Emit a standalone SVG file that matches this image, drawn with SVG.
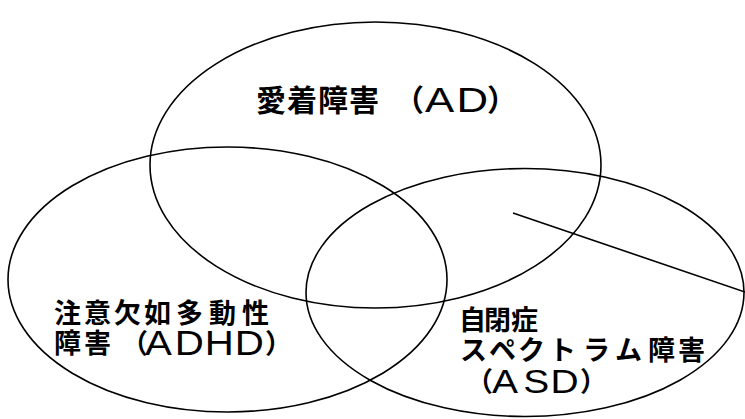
<svg xmlns="http://www.w3.org/2000/svg" width="745" height="419" viewBox="0 0 745 419">
<style>
.c{fill:none;stroke:#000;stroke-width:1.6}
.t{font-family:"Noto Sans CJK JP","Noto Sans CJK SC",sans-serif;font-weight:700;fill:#000}
.l{font-family:"Liberation Sans",Arial,sans-serif;fill:#000}
</style>
<rect width="745" height="419" fill="#fff"/>
<g id="ad">
<ellipse class="c" cx="375.5" cy="165" rx="225.5" ry="143"/>
<text class="t" font-size="30" y="111"><tspan x="256 287 318 349">愛着障害</tspan><tspan x="394">（</tspan><tspan x="487">）</tspan></text>
<text class="l" font-size="35" transform="translate(0 112) scale(1.25 1)" x="340 365.2" y="0">AD</text>
</g>
<g id="adhd">
<ellipse class="c" cx="227.5" cy="279.5" rx="219.5" ry="132.5"/>
<text class="t" font-size="27"><tspan x="54 84 114 144 176 209 242" y="323">注意欠如多動性</tspan><tspan x="54 84" y="353">障害</tspan><tspan x="121" y="353">（</tspan><tspan x="265" y="353">）</tspan></text>
<text class="l" font-size="35" transform="translate(0 355) scale(1.15 1)" x="126.1 152 178.1 204.2" y="0">ADHD</text>
</g>
<g id="asd">
<ellipse class="c" cx="525" cy="292.5" rx="219" ry="124"/>
<text class="t" font-size="27"><tspan x="459 484 511" y="330">自閉症</tspan><tspan x="460 489 518 549 583 615 648 678" y="360">スペクトラム障害</tspan><tspan x="466" y="391">（</tspan><tspan x="580" y="391">）</tspan></text>
<text class="l" font-size="33" transform="translate(0 393) scale(1.18 1)" x="416.9 443.5 466.6" y="0">ASD</text>
</g>
<g id="connectors"><line class="c" x1="513" y1="213" x2="745" y2="292"/></g>
</svg>
